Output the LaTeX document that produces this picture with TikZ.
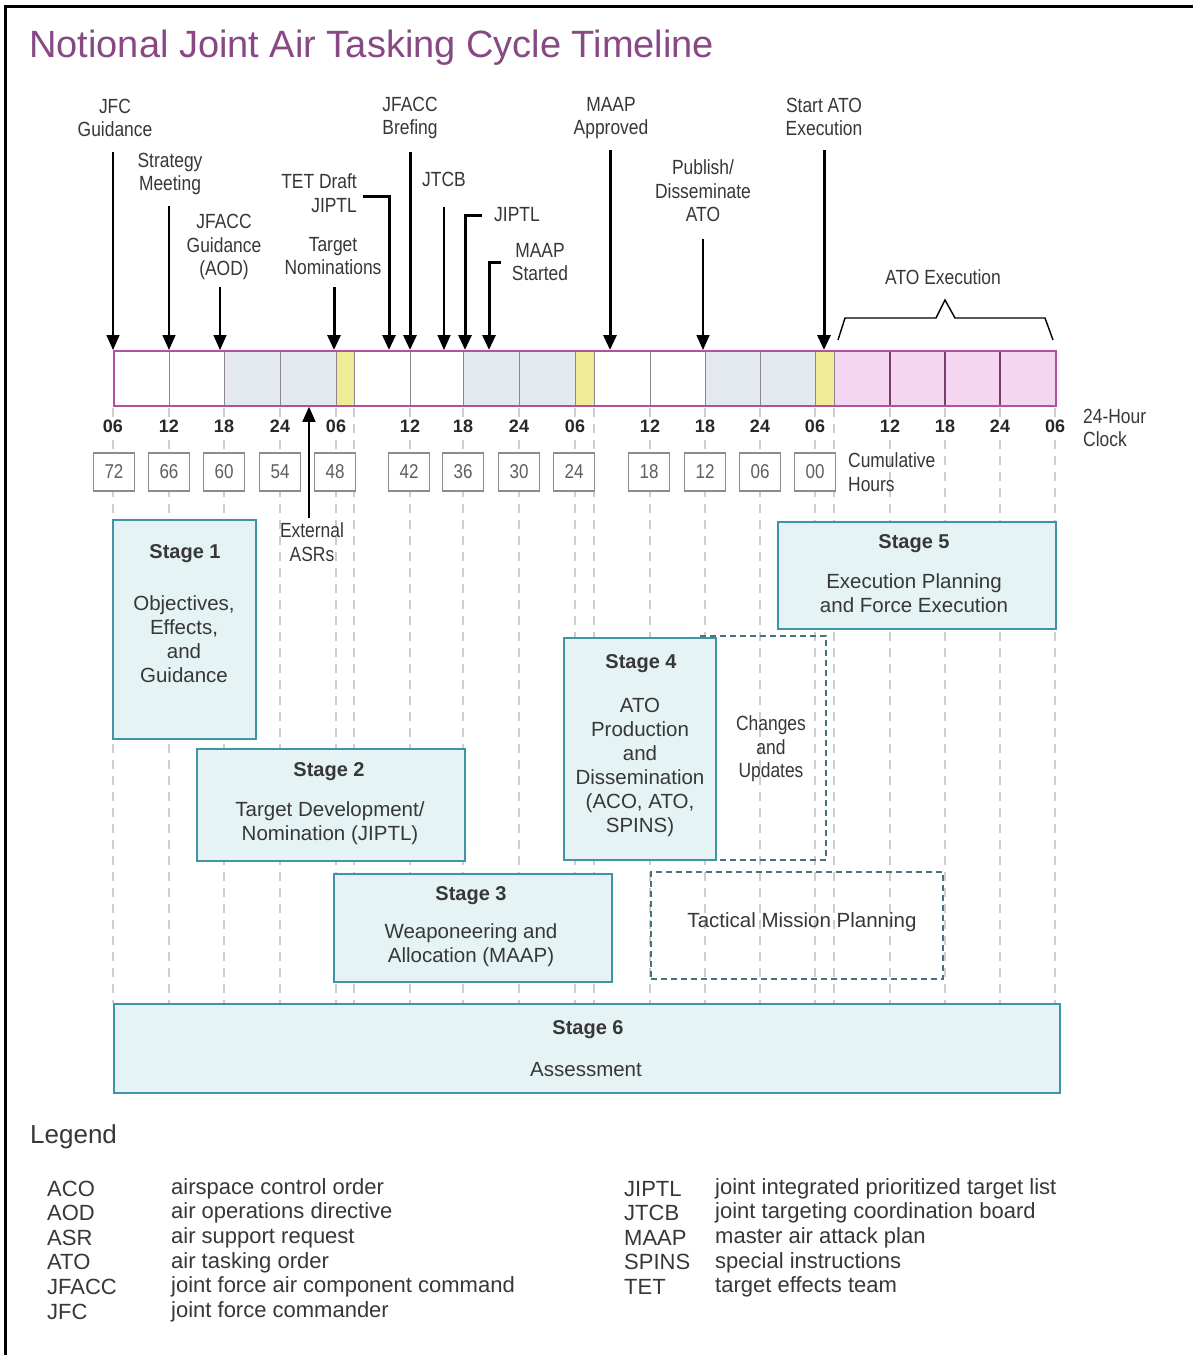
\documentclass[tikz,border=0pt]{standalone}
\usepackage{fontspec}
\setmainfont{Liberation Sans}
\newfontfamily\narrowfont[FakeStretch=0.85]{Liberation Sans}
\usetikzlibrary{arrows.meta}
\definecolor{titlepurple}{RGB}{135,72,132}
\definecolor{barborder}{RGB}{180,80,160}
\definecolor{barline}{RGB}{140,130,145}
\definecolor{barlinep}{RGB}{120,60,110}
\definecolor{bargray}{RGB}{228,232,239}
\definecolor{baryellow}{RGB}{240,236,150}
\definecolor{barpink}{RGB}{245,214,240}
\definecolor{stageedge}{RGB}{62,150,165}
\definecolor{stagefill}{RGB}{229,243,244}
\definecolor{dashteal}{RGB}{70,115,125}
\definecolor{gridgray}{RGB}{205,205,205}
\definecolor{boxgray}{RGB}{140,140,140}
\definecolor{numgray}{RGB}{95,95,95}
\definecolor{txt}{RGB}{55,55,55}
\definecolor{txtdark}{RGB}{40,40,40}
\tikzset{
  lbl/.style={font=\narrowfont\fontsize{20.5}{23.5}\selectfont, text=txt, align=center, inner sep=0pt},
  ticklbl/.style={font=\bfseries\fontsize{18}{20}\selectfont, text=txtdark, fill=white, inner sep=1.5pt},
  cumbox/.style={draw=boxgray, line width=1.2pt, fill=white, minimum width=41pt, minimum height=38pt, inner sep=0pt, font=\narrowfont\fontsize{20}{20}\selectfont, text=numgray},
  stagebox/.style={draw=stageedge, line width=1.8pt, fill=stagefill, anchor=north west, inner sep=0pt},
  stagetxt/.style={font=\fontsize{20.5}{24}\selectfont, text=txt, align=center, inner sep=0pt},
  stagetitle/.style={font=\bfseries\fontsize{20}{24}\selectfont, text=txt, inner sep=0pt},
  dashbox/.style={draw=dashteal, line width=1.5pt, dash pattern=on 6pt off 4pt, anchor=north west, inner sep=0pt},
  thinarr/.style={line width=1.6pt, -{Triangle[length=15pt,width=13pt]}},
  thickarr/.style={line width=3pt, -{Triangle[length=15pt,width=13pt]}},
  gridln/.style={draw=gridgray, line width=1.3pt, dash pattern=on 9pt off 7pt},
  legtxt/.style={font=\fontsize{22}{24}\selectfont, text=txt, anchor=west, inner sep=0pt},
}
\begin{document}
\begin{tikzpicture}[x=1pt,y=-1pt]
\useasboundingbox (0,0) rectangle (1193,1355);
\fill[white] (0,0) rectangle (1193,1355);
\draw[line width=3pt] (5,1355) -- (5,6) -- (1193,6);

% title
\node[anchor=west, text=titlepurple, font=\fontsize{38}{40}\selectfont, inner sep=0pt] (title) at (29,48) {Notional Joint Air Tasking Cycle Timeline};

% grid lines
\foreach \x in {113,169,224,280,336,354,410,463,519,575,594,650,705,760,815,834,890,945,1000,1055}
  \draw[gridln] (\x,408) -- (\x,1003);

% bar
\fill[white] (113,350) rectangle (224,405);
\fill[bargray] (224,350) rectangle (336,405);
\fill[baryellow] (336,350) rectangle (354,405);
\fill[white] (354,350) rectangle (463,405);
\fill[bargray] (463,350) rectangle (575,405);
\fill[baryellow] (575,350) rectangle (594,405);
\fill[white] (594,350) rectangle (705,405);
\fill[bargray] (705,350) rectangle (815,405);
\fill[baryellow] (815,350) rectangle (834,405);
\fill[barpink] (834,350) rectangle (1055,405);
\foreach \x in {169,224,280,336,354,410,463,519,575,594,650,705,760,815,834}
  \draw[barline, line width=1pt] (\x,350) -- (\x,405);
\foreach \x in {890,945,1000}
  \draw[barlinep, line width=1.2pt] (\x,350) -- (\x,405);
\node[draw=barborder, line width=1.8pt, minimum width=942pt, minimum height=55pt, anchor=north west, inner sep=0pt] (bar) at (113,350) {};

% 24-hour clock labels
\foreach \x/\t [count=\i] in {113/06,169/12,224/18,280/24,336/06,410/12,463/18,519/24,575/06,650/12,705/18,760/24,815/06,890/12,945/18,1000/24,1055/06}
  \node[ticklbl] (tk\i) at (\x,426) {\t};
\node[lbl, align=left, anchor=west] (clock) at (1083,428) {24-Hour\\Clock};

% cumulative hours boxes
\foreach \x/\t [count=\i] in {114/72,169/66,224/60,280/54,335/48,409/42,463/36,519/30,574/24,649/18,705/12,760/06,815/00}
  \node[cumbox] (cb\i) at (\x,472) {\t};
\node[lbl, align=left, anchor=west] (cum) at (848,472) {Cumulative\\Hours};

% event labels and arrows
\node[lbl] (jfc) at (115,118) {JFC\\Guidance};
\coordinate (jfcS) at (113,152);
\draw[thinarr] (jfcS) -- (jfcS |- bar.north);

\node[lbl] (strat) at (170,174) {Strategy\\Meeting};
\coordinate (stratS) at (169,206);
\draw[thinarr] (stratS) -- (stratS |- bar.north);

\node[lbl] (jfaccg) at (224,247) {JFACC\\Guidance\\(AOD)};
\coordinate (jfaccgS) at (220,287);
\draw[thinarr] (jfaccgS) -- (jfaccgS |- bar.north);

\node[lbl] (tnom) at (333,256) {Target\\Nominations};
\coordinate (tnomS) at (334,287);
\draw[thickarr] (tnomS) -- (tnomS |- bar.north);

\node[lbl, align=right, anchor=east] (tet) at (357,193) {TET Draft\\JIPTL};
\coordinate (tetS) at (363,196);
\coordinate (tetC) at (389,196);
\draw[thickarr] (tetS) -- (tetC) -- (tetC |- bar.north);

\node[lbl] (jfaccb) at (410,118) {JFACC\\Brefing};
\coordinate (jfaccbS) at (410,152);
\draw[thickarr] (jfaccbS) -- (jfaccbS |- bar.north);

\node[lbl] (jtcb) at (444,179) {JTCB};
\coordinate (jtcbS) at (444,207);
\draw[thinarr] (jtcbS) -- (jtcbS |- bar.north);

\node[lbl] (jiptl) at (517,215) {JIPTL};
\coordinate (jiptlS) at (482,215);
\coordinate (jiptlC) at (465,215);
\draw[thickarr] (jiptlS) -- (jiptlC) -- (jiptlC |- bar.north);

\node[lbl] (maaps) at (540,262) {MAAP\\Started};
\coordinate (maapsS) at (501,262);
\coordinate (maapsC) at (489,262);
\draw[thickarr] (maapsS) -- (maapsC) -- (maapsC |- bar.north);

\node[lbl] (maapa) at (611,118) {MAAP\\Approved};
\coordinate (maapaS) at (610,150);
\draw[thickarr] (maapaS) -- (maapaS |- bar.north);

\node[lbl] (pub) at (703,191) {Publish/\\Disseminate\\ATO};
\coordinate (pubS) at (703,239);
\draw[thinarr] (pubS) -- (pubS |- bar.north);

\node[lbl] (start) at (824,117) {Start ATO\\Execution};
\coordinate (startS) at (824,150);
\draw[thickarr] (startS) -- (startS |- bar.north);

\node[lbl] (atoexec) at (943,277) {ATO Execution};
\draw[line width=1.4pt] (838,340) -- (845,318) -- (936,318) -- (945,300) -- (955,318) -- (1045,318) -- (1053,340);

\node[lbl] (asr) at (312,542) {External\\ASRs};
\coordinate (asrS) at (309,518);
\draw[thinarr] (asrS) -- (asrS |- bar.south);

% dashed boxes
\node[dashbox, minimum width=126pt, minimum height=224pt] (chg) at (699,635) {};
\node[lbl] (chgt) at (771,749) {Changes\\and\\Updates};
\node[dashbox, minimum width=292pt, minimum height=107pt] (tmp) at (650,871) {};
\node[stagetxt] (tmpt) at (802,922) {Tactical Mission Planning};

% stage boxes
\node[stagebox, minimum width=143pt, minimum height=219pt] (s1) at (112,519) {};
\node[stagetitle] (s1t) at (185,554) {Stage 1};
\node[stagetxt] (s1b) at (184,639) {Objectives,\\Effects,\\and\\Guidance};

\node[stagebox, minimum width=268pt, minimum height=112pt] (s2) at (196,748) {};
\node[stagetitle] (s2t) at (329,772) {Stage 2};
\node[stagetxt] (s2b) at (330,823) {Target Development/\\Nomination (JIPTL)};

\node[stagebox, minimum width=278pt, minimum height=108pt] (s3) at (333,873) {};
\node[stagetitle] (s3t) at (471,896) {Stage 3};
\node[stagetxt] (s3b) at (471,945) {Weaponeering and\\Allocation (MAAP)};

\node[stagebox, minimum width=152pt, minimum height=222pt] (s4) at (563,637) {};
\node[stagetitle] (s4t) at (641,664) {Stage 4};
\node[stagetxt] (s4b) at (640,767) {ATO\\Production\\and\\Dissemination\\(ACO, ATO,\\SPINS)};

\node[stagebox, minimum width=278pt, minimum height=107pt] (s5) at (777,521) {};
\node[stagetitle] (s5t) at (914,544) {Stage 5};
\node[stagetxt] (s5b) at (914,593) {Execution Planning\\and Force Execution};

\node[stagebox, minimum width=946pt, minimum height=89pt] (s6) at (113,1003) {};
\node[stagetitle] (s6t) at (588,1030) {Stage 6};
\node[stagetxt] (s6b) at (586,1070) {Assessment};

% legend
\node[anchor=west, font=\fontsize{26}{28}\selectfont, text=txt, inner sep=0pt] (legend) at (30,1137) {Legend};
\foreach \ab/\de [count=\i] in {ACO/airspace control order, AOD/air operations directive, ASR/air support request, ATO/air tasking order, JFACC/joint force air component command, JFC/joint force commander} {
  \node[legtxt] (la\i) at (47,{1164+24.6*\i}) {\ab};
  \node[legtxt] (ld\i) at (171,{1164+24.6*\i}) {\de};
}
\foreach \ab/\de [count=\i] in {JIPTL/joint integrated prioritized target list, JTCB/joint targeting coordination board, MAAP/master air attack plan, SPINS/special instructions, TET/target effects team} {
  \node[legtxt] (ra\i) at (624,{1164+24.6*\i}) {\ab};
  \node[legtxt] (rd\i) at (715,{1164+24.6*\i}) {\de};
}
\end{tikzpicture}
\end{document}
